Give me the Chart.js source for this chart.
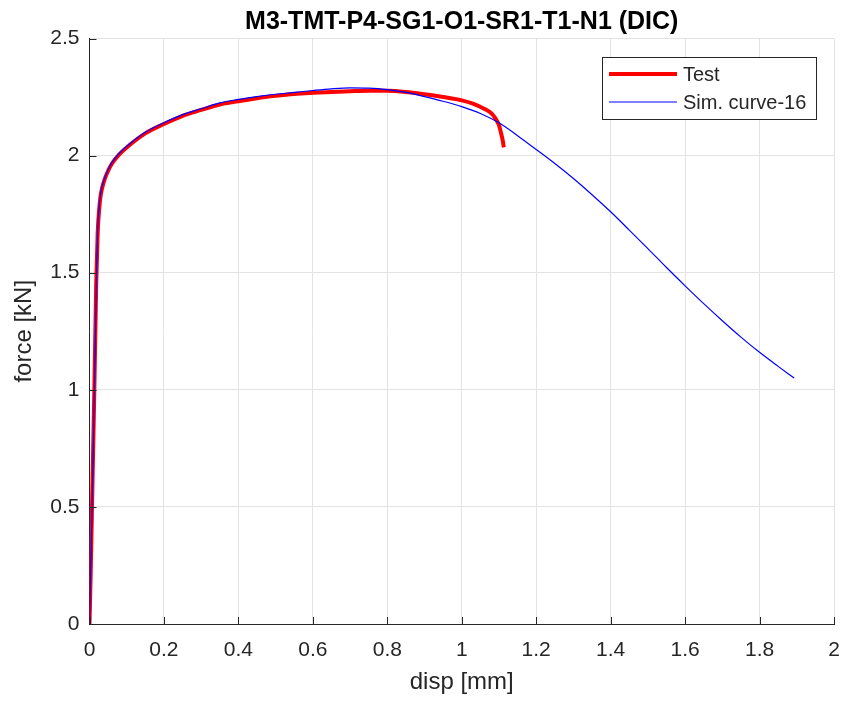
<!DOCTYPE html>
<html>
<head>
<meta charset="utf-8">
<script src="https://cdn.jsdelivr.net/npm/chart.js@4.4.1/dist/chart.umd.min.js"></script>
<style>
  html, body { margin: 0; padding: 0; background: #fff; }
  #wrap { width: 844px; height: 702px; }
</style>
</head>
<body>
<div id="wrap"><canvas id="chart" width="844" height="702"></canvas></div>
<script>
// Test curve (red)
const testDisp = [0, 0.003, 0.008, 0.013, 0.018, 0.022, 0.026, 0.03, 0.04, 0.05, 0.06, 0.08, 0.1,
  0.15, 0.2, 0.25, 0.3, 0.35, 0.4, 0.45, 0.5, 0.55, 0.6, 0.65, 0.7, 0.75, 0.8, 0.85, 0.9, 0.95,
  1.0, 1.03, 1.06, 1.08, 1.09, 1.1, 1.105, 1.11, 1.113];
const testForce = [0, 0.2, 0.6, 1.0, 1.45, 1.67, 1.77, 1.83, 1.895, 1.935, 1.965, 2.005, 2.035,
  2.095, 2.135, 2.17, 2.195, 2.218, 2.232, 2.245, 2.255, 2.263, 2.268, 2.272, 2.275, 2.277, 2.277,
  2.272, 2.262, 2.25, 2.236, 2.222, 2.2, 2.18, 2.16, 2.13, 2.1, 2.065, 2.035];

// Simulated curve (blue)
const simDisp = [0, 0.005, 0.01, 0.015, 0.019, 0.022, 0.025, 0.03, 0.04, 0.05, 0.06, 0.08, 0.1,
  0.15, 0.2, 0.25, 0.3, 0.35, 0.4, 0.45, 0.5, 0.55, 0.6, 0.65, 0.7, 0.75, 0.8, 0.85, 0.9, 0.95,
  1.0, 1.05, 1.1, 1.15, 1.2, 1.25, 1.3, 1.35, 1.4, 1.45, 1.5, 1.55, 1.6, 1.65, 1.7, 1.75, 1.8,
  1.85, 1.893];
const simForce = [0, 0.35, 0.75, 1.15, 1.5, 1.68, 1.77, 1.84, 1.9, 1.94, 1.97, 2.01, 2.04,
  2.1, 2.14, 2.175, 2.2, 2.225, 2.24, 2.252, 2.262, 2.27, 2.278, 2.285, 2.289, 2.288, 2.282,
  2.27, 2.252, 2.232, 2.209, 2.18, 2.14, 2.085, 2.026, 1.966, 1.902, 1.833, 1.76, 1.682, 1.603,
  1.522, 1.444, 1.368, 1.295, 1.225, 1.16, 1.1, 1.05];

const xTicks = [0, 0.2, 0.4, 0.6, 0.8, 1, 1.2, 1.4, 1.6, 1.8, 2];
const yTicks = [0, 0.5, 1, 1.5, 2, 2.5];
const seriesNames = ['Test', 'Sim. curve-16'];

const AXIS = '#262626';
const GRID = '#e3e3e3';
const FONT = "'Liberation Sans', Arial, Helvetica, sans-serif";

function toPoints(xs, ys) {
  return xs.map((x, i) => ({ x: x, y: ys[i] }));
}

// MATLAB-style inward tick marks and legend box inside the axes
const matlabBits = {
  id: 'matlabBits',
  afterDraw(chart) {
    const ctx = chart.ctx;
    const area = chart.chartArea;
    const xs = chart.scales.x;
    const ys = chart.scales.y;
    ctx.save();
    ctx.strokeStyle = AXIS;
    ctx.lineWidth = 1;
    ctx.beginPath();
    xTicks.forEach(v => {
      const px = Math.round(xs.getPixelForValue(v)) + 0.5;
      ctx.moveTo(px, area.bottom);
      ctx.lineTo(px, area.bottom - 7);
    });
    yTicks.forEach(v => {
      const py = Math.round(ys.getPixelForValue(v)) + 0.5;
      ctx.moveTo(area.left, py);
      ctx.lineTo(area.left + 7, py);
    });
    ctx.stroke();

    // legend
    const box = { x: 602, y: 57, w: 214, h: 62 };
    ctx.fillStyle = '#fff';
    ctx.fillRect(box.x, box.y, box.w, box.h);
    ctx.strokeStyle = AXIS;
    ctx.strokeRect(box.x + 0.5, box.y + 0.5, box.w, box.h);
    const rows = [74, 102];
    chart.data.datasets.forEach((ds, i) => {
      ctx.strokeStyle = ds.borderColor;
      ctx.lineWidth = ds.borderWidth;
      ctx.beginPath();
      ctx.moveTo(609, rows[i]);
      ctx.lineTo(677, rows[i]);
      ctx.stroke();
      ctx.fillStyle = AXIS;
      ctx.font = '20px ' + FONT;
      ctx.textBaseline = 'middle';
      ctx.textAlign = 'left';
      ctx.fillText(seriesNames[i], 683, rows[i] + 1);
    });
    ctx.restore();
  }
};

new Chart(document.getElementById('chart'), {
  type: 'line',
  data: {
    datasets: [
      {
        label: seriesNames[0],
        data: toPoints(testDisp, testForce),
        borderColor: '#ff0000',
        borderWidth: 4,
        pointRadius: 0,
        cubicInterpolationMode: 'monotone',
        order: 2
      },
      {
        label: seriesNames[1],
        data: toPoints(simDisp, simForce),
        borderColor: '#0000ff',
        borderWidth: 1.2,
        pointRadius: 0,
        cubicInterpolationMode: 'monotone',
        order: 1
      }
    ]
  },
  options: {
    responsive: false,
    animation: false,
    layout: { padding: { left: 0, right: 10, top: 0, bottom: 0 } },
    plugins: {
      legend: { display: false },
      tooltip: { enabled: false },
      title: {
        display: true,
        text: 'M3-TMT-P4-SG1-O1-SR1-T1-N1 (DIC)',
        fullSize: false,
        color: '#000',
        font: { family: FONT, size: 25, weight: 'bold', lineHeight: 1.2 },
        padding: { top: 7, bottom: 1.5 }
      }
    },
    scales: {
      x: {
        type: 'linear',
        min: 0,
        max: 2,
        afterBuildTicks: axis => { axis.ticks = xTicks.map(v => ({ value: v })); },
        afterFit: axis => {
          axis.height = 78;
          axis.paddingLeft = 0;
          axis.paddingRight = 0;
        },
        ticks: {
          color: AXIS,
          padding: 14,
          maxRotation: 0,
          font: { family: FONT, size: 21 },
          callback: v => String(Number(v.toFixed(1)))
        },
        grid: { color: GRID, drawTicks: false },
        border: { color: AXIS, width: 1 },
        title: {
          display: true,
          text: 'disp [mm]',
          color: AXIS,
          font: { family: FONT, size: 24 },
          padding: { top: 0, bottom: 5 }
        }
      },
      y: {
        type: 'linear',
        min: 0,
        max: 2.5,
        afterBuildTicks: axis => { axis.ticks = yTicks.map(v => ({ value: v })); },
        afterFit: axis => { axis.width = 89.5; },
        ticks: {
          color: AXIS,
          padding: 10,
          font: { family: FONT, size: 21 },
          callback: v => String(Number(v.toFixed(1)))
        },
        grid: { color: GRID, drawTicks: false },
        border: { color: AXIS, width: 1 },
        title: {
          display: true,
          text: 'force [kN]',
          color: AXIS,
          font: { family: FONT, size: 24 },
          padding: { top: 10, bottom: 0 }
        }
      }
    }
  },
  plugins: [matlabBits]
});
</script>
</body>
</html>
